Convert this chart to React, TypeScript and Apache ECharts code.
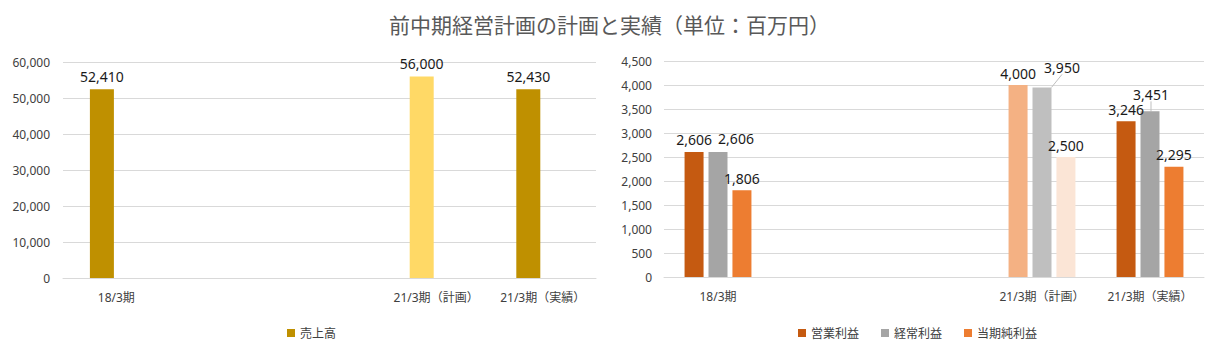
import React, { useEffect, useRef } from "react";
import * as echarts from "echarts";

const categories = ["18/3期", "", "", "21/3期（計画）", "21/3期（実績）"];
const planIndex = 3;

const salesValues: (number | null)[] = [52410, null, null, 56000, 52430];

const opIncome: (number | null)[] = [2606, null, null, 4000, 3246];
const ordIncome: (number | null)[] = [2606, null, null, 3950, 3451];
const netIncome: (number | null)[] = [1806, null, null, 2500, 2295];

const leftTicks = { min: 0, max: 60000, interval: 10000 };
const rightTicks = { min: 0, max: 4500, interval: 500 };

const FONT = '"Noto Sans", "Noto Sans CJK JP", sans-serif';

const fmt = (v: number) => v.toLocaleString("en-US");

export default function App() {
  const ref = useRef<HTMLDivElement>(null);
  useEffect(() => {
    document.body.style.margin = "0";
    if (!ref.current) return;
    const chart = echarts.init(ref.current, undefined, { renderer: "svg" });

    const labelBase = {
      show: true,
      position: "top" as const,
      distance: 5,
      fontSize: 14,
      color: "#1a1a1a",
      fontFamily: FONT,
      formatter: (p: any) => (p.value == null ? "" : fmt(p.value)),
    };

    const mk = (vals: (number | null)[], color: string, planColor: string) =>
      vals.map((v, i) =>
        v == null
          ? null
          : i === planIndex
          ? { value: v, itemStyle: { color: planColor } }
          : { value: v, itemStyle: { color } }
      );

    // label displacement (pixels) for specific labels in the right panel
    const ordOffsets: Record<number, [number, number]> = {
      0: [18, -1],
      3: [20, -8],
      4: [1, -5],
    };

    const axisLabel = { fontSize: 12, color: "#404040", fontFamily: FONT };

    chart.setOption({
      animation: false,
      textStyle: { fontFamily: FONT },
      title: {
        text: "前中期経営計画の計画と実績（単位：百万円）",
        left: "center",
        top: 8,
        textStyle: {
          fontSize: 21,
          fontWeight: "normal",
          color: "#595959",
          fontFamily: '"Noto Sans CJK JP", sans-serif',
        },
      },
      legend: [
        {
          data: ["売上高"],
          left: 282,
          top: 322,
          itemWidth: 8,
          itemHeight: 8,
          icon: "rect",
          textStyle: { fontSize: 12, color: "#404040", fontFamily: FONT },
        },
        {
          data: ["営業利益", "経常利益", "当期純利益"],
          left: 793,
          top: 322,
          itemWidth: 8,
          itemHeight: 8,
          itemGap: 22,
          icon: "rect",
          textStyle: { fontSize: 12, color: "#404040", fontFamily: FONT },
        },
      ],
      grid: [
        { left: 63, right: 623, top: 62, bottom: 75 },
        { left: 664, right: 15, top: 61, bottom: 76 },
      ],
      xAxis: [0, 1].map((g) => ({
        type: "category",
        gridIndex: g,
        data: categories,
        axisTick: { show: false },
        axisLine: { lineStyle: { color: "#d9d9d9" } },
        axisLabel: { ...axisLabel, margin: 13, interval: 0 },
      })),
      yAxis: [
        {
          type: "value",
          gridIndex: 0,
          ...leftTicks,
          axisLabel: { ...axisLabel, margin: 13, formatter: (v: number) => fmt(v) },
          splitLine: { lineStyle: { color: "#d9d9d9" } },
          axisLine: { show: false },
          axisTick: { show: false },
        },
        {
          type: "value",
          gridIndex: 1,
          ...rightTicks,
          axisLabel: { ...axisLabel, margin: 12, formatter: (v: number) => fmt(v) },
          splitLine: { lineStyle: { color: "#d9d9d9" } },
          axisLine: { show: false },
          axisTick: { show: false },
        },
      ],
      series: [
        {
          name: "売上高",
          type: "bar",
          xAxisIndex: 0,
          yAxisIndex: 0,
          barWidth: 24,
          barGap: "20%",
          itemStyle: { color: "#BF9000" },
          data: mk(salesValues, "#BF9000", "#FFD966"),
          label: { ...labelBase, distance: 6 },
        },
        {
          name: "売上高（計画）",
          type: "bar",
          xAxisIndex: 0,
          yAxisIndex: 0,
          barWidth: 24,
          barGap: "20%",
          itemStyle: { color: "#FFD966" },
          data: salesValues.map(() => null),
        },
        {
          name: "営業利益",
          type: "bar",
          xAxisIndex: 1,
          yAxisIndex: 1,
          barWidth: 19,
          barGap: "26%",
          itemStyle: { color: "#C55A11" },
          data: mk(opIncome, "#C55A11", "#F4B183"),
          label: labelBase,
        },
        {
          name: "経常利益",
          type: "bar",
          xAxisIndex: 1,
          yAxisIndex: 1,
          barWidth: 19,
          barGap: "26%",
          itemStyle: { color: "#A5A5A5" },
          data: ordIncome.map((v, i) =>
            v == null
              ? null
              : {
                  value: v,
                  itemStyle: { color: i === planIndex ? "#BFBFBF" : "#A5A5A5" },
                  labelLine: { show: i !== 0 },
                }
          ),
          label: labelBase,
          labelLine: { show: false, lineStyle: { color: "#BFBFBF", width: 1 } },
          labelLayout: (p: any) => {
            const o = ordOffsets[p.dataIndex];
            return o ? { dx: o[0], dy: o[1] } : {};
          },
        },
        {
          name: "当期純利益",
          type: "bar",
          xAxisIndex: 1,
          yAxisIndex: 1,
          barWidth: 19,
          barGap: "26%",
          itemStyle: { color: "#ED7D31" },
          data: mk(netIncome, "#ED7D31", "#FBE5D6"),
          label: labelBase,
        },
      ],
    });
    return () => chart.dispose();
  }, []);
  return <div ref={ref} style={{ width: 1219, height: 353 }} />;
}
